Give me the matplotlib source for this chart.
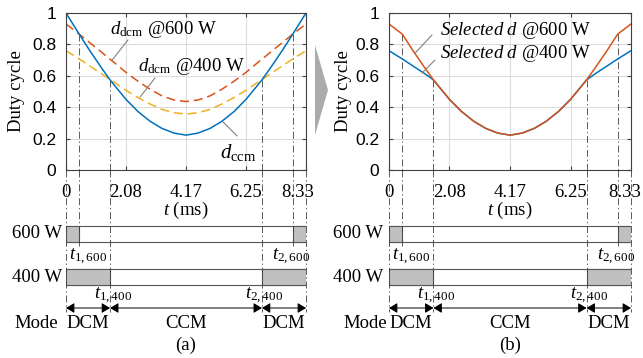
"""Duty cycle comparison: CCM/DCM duty and selected duty at 600 W / 400 W."""

import matplotlib

matplotlib.use("Agg")
import matplotlib.pyplot as plt
from matplotlib.patches import Polygon, Rectangle
from matplotlib.transforms import ScaledTranslation

# ---- data ------------------------------------------------------------------
T_MS = [0, 0.46, 0.83, 1.25, 1.53, 1.67, 2.08, 2.50, 2.92, 3.33, 3.75, 4.17,
        4.58, 5.00, 5.41, 5.83, 6.25, 6.66, 6.80, 7.08, 7.50, 7.87, 8.33]
D_CCM = [1.000, 0.865, 0.759, 0.646, 0.574, 0.542, 0.450, 0.372, 0.310, 0.265, 0.235, 0.222,
         0.235, 0.265, 0.310, 0.372, 0.450, 0.542, 0.574, 0.646, 0.759, 0.865, 1.000]
D_DCM_600 = [0.930, 0.865, 0.810, 0.748, 0.705, 0.685, 0.622, 0.565, 0.514, 0.472, 0.446, 0.436,
             0.446, 0.472, 0.514, 0.565, 0.622, 0.685, 0.705, 0.748, 0.810, 0.865, 0.930]
D_DCM_400 = [0.760, 0.707, 0.662, 0.611, 0.576, 0.559, 0.508, 0.461, 0.420, 0.386, 0.365, 0.356,
             0.365, 0.386, 0.420, 0.461, 0.508, 0.559, 0.576, 0.611, 0.662, 0.707, 0.760]
SEL_600 = [0.930, 0.865, 0.759, 0.646, 0.574, 0.542, 0.450, 0.372, 0.310, 0.265, 0.235, 0.222,
           0.235, 0.265, 0.310, 0.372, 0.450, 0.542, 0.574, 0.646, 0.759, 0.865, 0.930]
SEL_400 = [0.760, 0.707, 0.662, 0.611, 0.574, 0.542, 0.450, 0.372, 0.310, 0.265, 0.235, 0.222,
           0.235, 0.265, 0.310, 0.372, 0.450, 0.542, 0.574, 0.611, 0.662, 0.707, 0.760]

X_TICKS = [0, 2.08, 4.17, 6.25, 8.33]
X_TICK_LABELS = ["0", "2.08", "4.17", "6.25", "8.33"]
Y_TICKS = [0, 0.2, 0.4, 0.6, 0.8, 1.0]
Y_TICK_LABELS = ["0", "0.2", "0.4", "0.6", "0.8", "1"]

# mode boundaries (ms) and duty at the crossings
T1_600, T2_600, D_X600 = 0.46, 7.87, 0.865
T1_400, T2_400, D_X400 = 1.53, 6.80, 0.574
T_END = 8.33

BLUE = "#0072BD"
ORANGE = "#D95319"
YELLOW = "#EDB120"
FRAME = "#404040"
W, H = 643, 358

plt.rcParams.update({
    "font.family": ["Liberation Serif", "DejaVu Serif"],
    "mathtext.fontset": "custom",
    "mathtext.rm": "Liberation Serif",
    "mathtext.it": "Liberation Serif:italic",
    "font.size": 13.5,
    "lines.scale_dashes": False,
})


def px_rect(left, top, right, bottom):
    return [left / W, 1 - bottom / H, (right - left) / W, (bottom - top) / H]


def style_top(ax, ylab_x, last_shift):
    ax.set_xlim(0, T_END)
    ax.set_ylim(0, 1)
    # last x label sits a little left of its tick in the reference: draw it by hand
    ax.set_xticks(X_TICKS, X_TICK_LABELS[:-1] + [""])
    ax.text(X_TICKS[-1], 0, X_TICK_LABELS[-1], ha="center", va="top",
            transform=ax.get_xaxis_transform() + ScaledTranslation(last_shift, -10 / 72, fig.dpi_scale_trans))
    ax.set_yticks(Y_TICKS, Y_TICK_LABELS)
    for lab in ax.get_yticklabels():
        lab.set_fontfamily("Liberation Sans")
        lab.set_fontsize(12.5)
    ax.grid(True, color="#DCDCDC", linewidth=0.8)
    ax.set_axisbelow(True)
    ax.tick_params(direction="in", length=3, width=0.8, color=FRAME, top=True, right=True)
    ax.tick_params(axis="x", pad=10)
    ax.tick_params(axis="y", pad=7)
    for s in ax.spines.values():
        s.set_color(FRAME)
        s.set_linewidth(0.8)
    ax.set_ylabel("Duty cycle")
    ax.yaxis.set_label_coords(ylab_x, 0.5)


def crossing_lines(ax):
    kw = dict(color=FRAME, linewidth=0.6, linestyle=(0, (5, 2, 1, 2)), zorder=1.5)
    for t, d in [(T1_600, D_X600), (T2_600, D_X600), (T1_400, D_X400), (T2_400, D_X400)]:
        ax.plot([t, t], [d, 0], **kw)


def mode_panel(ax, mode_x, w_x, tag):
    ax.set_xlim(0, T_END)
    ax.set_ylim(358, 170)
    ax.axis("off")
    kw = dict(color=FRAME, linewidth=0.6, linestyle=(0, (5, 2, 1, 2)))
    for t in [0, T1_400, T2_400, T_END]:
        ax.plot([t, t], [170, 312], clip_on=False, **kw)
    for t in [T1_600, T2_600]:
        ax.plot([t, t], [170, 246], clip_on=False, **kw)

    ax.text(T_END / 2, 210, r"$t$ (ms)", ha="center", va="center")

    gray, edge = "#C0C0C0", "#555555"
    for top, t1, t2 in [(226, T1_600, T2_600), (269, T1_400, T2_400)]:
        ax.add_patch(Rectangle((0, top), T_END, 16, facecolor="white", edgecolor=edge, linewidth=0.8))
        ax.add_patch(Rectangle((0, top), t1, 16, facecolor=gray, edgecolor=edge, linewidth=0.8))
        ax.add_patch(Rectangle((t2, top), T_END - t2, 16, facecolor=gray, edgecolor=edge, linewidth=0.8))
    ax.text(w_x, 234, "600 W", ha="right", va="center")
    ax.text(w_x, 277, "400 W", ha="right", va="center")

    ax.text(0.75, 257, r"$t_{1,600}$", ha="center", va="center")
    ax.text(7.82, 257, r"$t_{2,600}$", ha="center", va="center")
    ax.text(1.62, 296, r"$t_{1,400}$", ha="center", va="center")
    ax.text(6.88, 296, r"$t_{2,400}$", ha="center", va="center")

    arrow = dict(arrowstyle="<|-|>,head_length=0.5,head_width=0.3", color="black",
                 linewidth=0.7, shrinkA=0, shrinkB=0, mutation_scale=10)
    for a, b in [(0, T1_400), (T1_400, T2_400), (T2_400, T_END)]:
        ax.annotate("", xy=(b, 308), xytext=(a, 308), arrowprops=arrow)

    ax.text(mode_x, 324, "Mode", ha="right", va="center")
    ax.text(T1_400 / 2, 324, "DCM", ha="center", va="center")
    ax.text(T_END / 2, 324, "CCM", ha="center", va="center")
    ax.text((T2_400 + T_END) / 2, 324, "DCM", ha="center", va="center")
    ax.text(T_END / 2, 345, tag, ha="center", va="center")


fig = plt.figure(figsize=(W / 100, H / 100), dpi=100)
ptr = dict(arrowstyle="-", color="#808080", linewidth=0.8, shrinkA=0, shrinkB=0)

# ---- (a) ----
ax_a = fig.add_axes(px_rect(66, 13, 306, 170))
style_top(ax_a, -0.171, -0.08)
crossing_lines(ax_a)
ax_a.plot(T_MS, D_DCM_600, color=ORANGE, linewidth=1.1, linestyle=(0, (6.5, 3.5)))
ax_a.plot(T_MS, D_DCM_400, color=YELLOW, linewidth=1.1, linestyle=(0, (6.5, 3.5)))
ax_a.plot(T_MS, D_CCM, color=BLUE, linewidth=1.1)
ax_a.annotate("", xy=(1.60, 0.70), xytext=(2.15, 0.828), arrowprops=ptr)
ax_a.annotate("", xy=(2.57, 0.465), xytext=(3.09, 0.586), arrowprops=ptr)
ax_a.annotate("", xy=(5.45, 0.306), xytext=(5.94, 0.217), arrowprops=ptr)
ax_a.text(1.53, 0.866, r"$d_{\rm dcm}$ @600 W", va="baseline")
ax_a.text(2.50, 0.63, r"$d_{\rm dcm}$ @400 W", va="baseline")
ax_a.text(5.35, 0.076, r"$d_{\rm ccm}$", va="baseline", fontsize=15)

ax_ma = fig.add_axes(px_rect(66, 170, 306, 358))
mode_panel(ax_ma, -0.28, -0.14, "(a)")

# ---- (b) ----
ax_b = fig.add_axes(px_rect(389, 13, 631, 170))
style_top(ax_b, -0.153, -0.06)
crossing_lines(ax_b)
ax_b.plot(T_MS, SEL_400, color=BLUE, linewidth=1.1)
ax_b.plot(T_MS, SEL_600, color=ORANGE, linewidth=1.1)
ax_b.annotate("", xy=(0.90, 0.745), xytext=(1.48, 0.86), arrowprops=ptr)
ax_b.annotate("", xy=(1.14, 0.618), xytext=(1.58, 0.70), arrowprops=ptr)
ax_b.text(1.76, 0.86, r"$Selected\ d$ @600 W", va="baseline")
ax_b.text(1.76, 0.713, r"$Selected\ d$ @400 W", va="baseline")

ax_mb = fig.add_axes(px_rect(389, 170, 631, 358))
mode_panel(ax_mb, -0.07, -0.20, "(b)")

# gray chevron between the panels
chev = [(315, 45), (328, 90), (315, 135)]
fig.patches.append(Polygon([(x / W, 1 - y / H) for x, y in chev], closed=True,
                           transform=fig.transFigure, facecolor="#ABABAB", edgecolor="none"))

fig.savefig("out.png", dpi=100)
